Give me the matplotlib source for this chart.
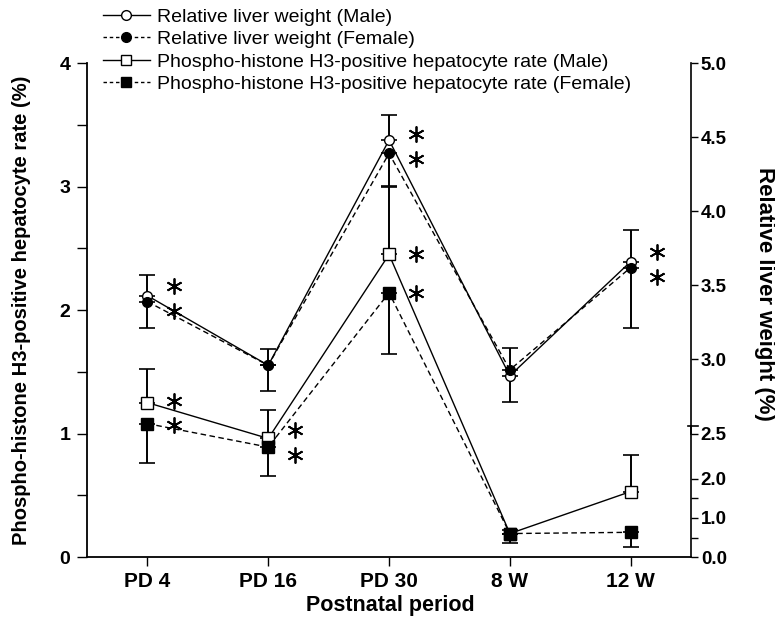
import matplotlib
matplotlib.use('Agg')
import matplotlib.pyplot as plt
import numpy as np
from matplotlib.lines import Line2D

plt.rcParams['font.family'] = ['Liberation Sans', 'DejaVu Sans']

periods = ['PD 4', 'PD 16', 'PD 30', '8 W', '12 W']

# relative liver weight (%) -> right (broken) axis
liver_male = [3.43, 2.96, 4.48, 2.89, 3.66]
liver_female = [3.39, 2.96, 4.39, 2.93, 3.62]
liver_male_se = [0.14, 0.11, 0.17, 0.19, 0.21]
liver_female_se = [0.18, 0.17, 0.22, 0.22, 0.41]
liver_sig = [True, False, True, False, True]

# phospho-histone H3-positive hepatocyte rate (%) -> left axis
ph3_male = [1.25, 0.96, 2.45, 0.19, 0.53]
ph3_female = [1.08, 0.89, 2.14, 0.19, 0.20]
ph3_male_se = [0.27, 0.23, 0.55, 0.03, 0.30]
ph3_female_se = [0.32, 0.23, 0.50, 0.08, 0.12]
ph3_sig = [True, True, True, False, False]

right_ticks = [0.0, 1.0, 2.0, 2.5, 3.0, 3.5, 4.0, 4.5, 5.0]
right_minor = [0.5, 1.5]


def to_left(r):
    # the right axis is broken: 0-2.5 squeezed at the bottom, 2.5-5.0 over left 1-4
    r = np.asarray(r, dtype=float)
    return np.where(r >= 2.5, 1.0 + (r - 2.5) * 1.2, r * 0.316)


def star_y(a, b, gap=0.2):
    a, b = float(a), float(b)
    if abs(a - b) >= gap:
        return a, b
    mid = (a + b) / 2
    if a >= b:
        return mid + gap / 2, mid - gap / 2
    return mid - gap / 2, mid + gap / 2


x = np.arange(len(periods))
zero = np.zeros(len(periods))

fig = plt.figure(figsize=(7.75, 6.26), dpi=100)
ax = fig.add_axes([0.1123, 0.1102, 0.7794, 0.7891])

lm = to_left(liver_male)
lf = to_left(liver_female)
lm_up = to_left(np.array(liver_male) + liver_male_se) - lm
lf_dn = lf - to_left(np.array(liver_female) - liver_female_se)

err_kw = dict(fmt='none', ecolor='k', elinewidth=1.4, capsize=5.5, capthick=1.2, zorder=2)
ax.errorbar(x, lm, yerr=[zero, lm_up], **err_kw)
ax.errorbar(x, lf, yerr=[lf_dn, zero], **err_kw)
ax.errorbar(x, ph3_male, yerr=[zero, ph3_male_se], **err_kw)
ax.errorbar(x, ph3_female, yerr=[ph3_female_se, zero], **err_kw)

dash = (4, 2.5)
ax.plot(x, lm, '-', color='k', lw=1.0, marker='o', ms=7, mfc='white', mec='k', mew=1.0, zorder=3)
ax.plot(x, lf, '--', dashes=dash, color='k', lw=1.0, marker='o', ms=7, mfc='k', mec='k', zorder=4)
ax.plot(x, ph3_male, '-', color='k', lw=1.0, marker='s', ms=8, mfc='white', mec='k', mew=1.0, zorder=3)
ax.plot(x, ph3_female, '--', dashes=dash, color='k', lw=1.0, marker='s', ms=8, mfc='k', mec='k', zorder=4)

# significance asterisks
off = 0.22
for i in range(len(periods)):
    pairs = []
    if liver_sig[i]:
        pairs.append((lm[i], lf[i]))
    if ph3_sig[i]:
        pairs.append((ph3_male[i], ph3_female[i]))
    for a, b in pairs:
        for yy in star_y(a, b):
            ax.plot(x[i] + off, yy, marker=(6, 2, 0), ms=11.5, mew=1.3, color='k',
                    linestyle='none', zorder=5)

ax.set_xlim(-0.5, 4.5)
ax.set_ylim(0, 4)
ax.spines['top'].set_visible(False)
ax.spines['right'].set_visible(False)
for s in ['left', 'bottom']:
    ax.spines[s].set_linewidth(1.3)
ax.set_xticks(x)
ax.set_xticklabels(periods, fontsize=15, fontweight='bold')
ax.set_yticks([0, 1, 2, 3, 4])
ax.set_yticklabels(['0', '1', '2', '3', '4'], fontsize=14, fontweight='bold')
ax.set_yticks([0.5, 1.5, 2.5, 3.5], minor=True)
ax.tick_params(axis='y', which='both', direction='out', length=7, width=1.0, pad=5)
ax.tick_params(axis='x', direction='out', length=6.5, width=1.0, pad=4)

ax2 = ax.twinx()
ax2.set_ylim(0, 4)
for s in ['left', 'top', 'bottom']:
    ax2.spines[s].set_visible(False)
ax2.spines['right'].set_linewidth(1.2)
ax2.spines['right'].set_bounds(float(to_left(2.5)), float(to_left(5.0)))
ax2.set_yticks(to_left(right_ticks))
ax2.set_yticklabels(['%.1f' % v for v in right_ticks], fontsize=13.5, fontweight='bold')
ax2.set_yticks(to_left(right_minor), minor=True)
ax2.tick_params(axis='y', which='both', direction='out', length=5, width=1.0, pad=2)
low_top = float(to_left(2.55))
ax2.plot([1, 1], [0, low_top], transform=ax2.get_yaxis_transform(), color='k',
         lw=1.2, clip_on=False)
ax2.plot([0.995, 1.012], [low_top, low_top], transform=ax2.get_yaxis_transform(),
         color='k', lw=1.2, clip_on=False)

fig.text(22 / 775, 1 - 310 / 626, 'Phospho-histone H3-positive hepatocyte rate (%)',
         rotation=90, ha='center', va='center', fontsize=14.5, fontweight='bold')
fig.text(764 / 775, 1 - 294 / 626, 'Relative liver weight (%)', rotation=-90,
         ha='center', va='center', fontsize=16, fontweight='bold')
fig.text(390 / 775, 1 - 606 / 626, 'Postnatal period', ha='center', va='center',
         fontsize=15.5, fontweight='bold')

handles = [
    Line2D([], [], color='k', lw=1.0, marker='o', ms=7, mfc='white', mec='k'),
    Line2D([], [], color='k', lw=1.0, ls='--', dashes=(2.5, 2), marker='o', ms=7, mfc='k', mec='k'),
    Line2D([], [], color='k', lw=1.0, marker='s', ms=7, mfc='white', mec='k'),
    Line2D([], [], color='k', lw=1.0, ls='--', dashes=(2.5, 2), marker='s', ms=7, mfc='k', mec='k'),
]
labels = ['Relative liver weight (Male)', 'Relative liver weight (Female)',
          'Phospho-histone H3-positive hepatocyte rate (Male)',
          'Phospho-histone H3-positive hepatocyte rate (Female)']
fig.legend(handles, labels, loc='upper left', bbox_to_anchor=(103 / 775, 1 - 8 / 626),
           frameon=False, fontsize=14, handlelength=2.4, handletextpad=0.4,
           labelspacing=0.25, borderpad=0, borderaxespad=0)

fig.savefig('out.png', dpi=100)
